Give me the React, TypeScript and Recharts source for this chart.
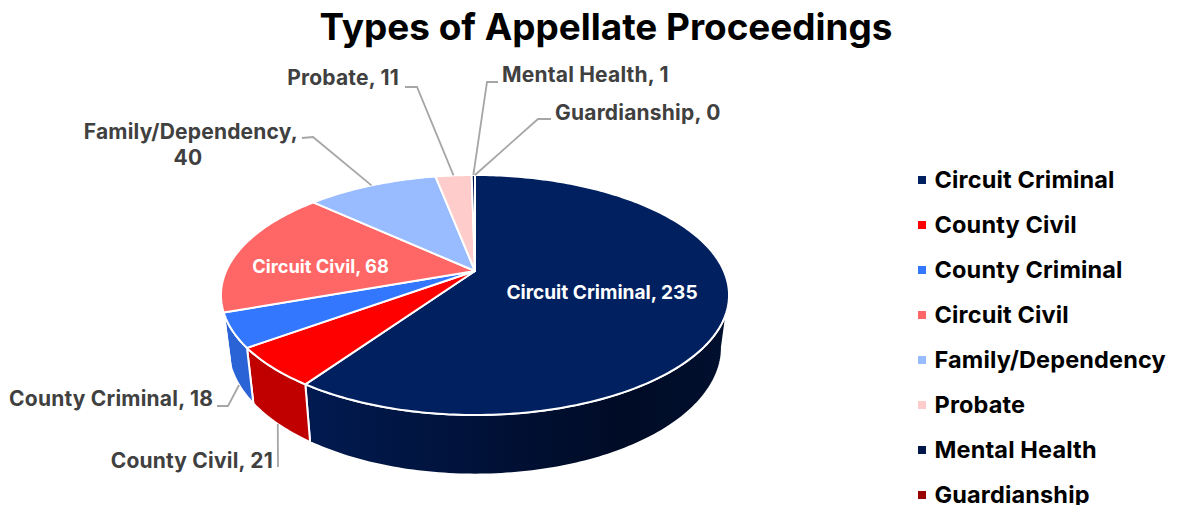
import React from "react";
import { PieChart, Pie, Legend } from "recharts";

const categories = ["Circuit Criminal", "County Civil", "County Criminal", "Circuit Civil", "Family/Dependency", "Probate", "Mental Health", "Guardianship"];
const values = [235, 21, 18, 68, 40, 11, 1, 0];
const topColors = ["#002060", "#ff0000", "#3377ff", "#ff6666", "#99bbff", "#ffcccc", "#00174a", "#990000"];
const wallColors = ["url(#navyWall)", "#c00000", "#2a63d6", "#d95757", "#99bbff", "#ffcccc", "#00174a", "#990000"];
const tableData = categories.map((name, i) => ({ name, value: values[i], fill: topColors[i], wall: wallColors[i] }));

const FONT = "Inter, Lato, sans-serif";
const W = 1182, H = 505;
const CX = 475, CY = 271;

// Perspective of the tilted disc
const P = 0.2, A = 115.2, B = 248.9;
const WALL_X = 0.972, WALL_Y = 1.06, WALL_DZ = 51;
const rim = (deg: number, lower = false) => {
  const r = (deg * Math.PI) / 180;
  const u = Math.cos(r), v = -Math.sin(r);
  const d = 1 - P * v;
  const x = (B * u) / d, y = (A * v) / d;
  return lower ? [CX + x * WALL_X, CY + WALL_DZ + y * WALL_Y] : [CX + x, CY + y];
};
const arcPts = (from: number, to: number, lower = false) => {
  const n = Math.max(2, Math.ceil(Math.abs(from - to)));
  const out: string[] = [];
  for (let i = 0; i <= n; i++) {
    const p = rim(from + ((to - from) * i) / n, lower);
    out.push(`${p[0].toFixed(2)} ${p[1].toFixed(2)}`);
  }
  return out;
};

const SliceShape = (props: any) => {
  const { startAngle: s, endAngle: e, payload } = props;
  if (Math.abs(s - e) < 0.001) return <g />;
  const wall = payload?.wall ?? props.wall;
  const fill = payload?.fill ?? props.fill;
  const hi = Math.min(s, -11.5), lo = Math.max(e, -168.5);
  return (
    <g>
      {hi > lo && (
        <path
          d={`M${arcPts(hi, lo).join(" L")} L${arcPts(lo, hi, true).join(" L")} Z`}
          fill={wall}
          stroke="#ffffff"
          strokeWidth={2}
          strokeLinejoin="round"
        />
      )}
      <path d={`M${CX} ${CY} L${arcPts(s, e).join(" L")} Z`} fill={fill} stroke="#ffffff" strokeWidth={2} strokeLinejoin="round" />
    </g>
  );
};

type LabelSpot = { x: number; y: number; lines: string[]; anchor: string; color: string; size: number; weight: number; spacing: number; leader?: number[][]; lowerRim?: boolean };
const outer = { color: "#404040", size: 21, weight: 700, spacing: 0.2 };
const labelSpots: Record<string, LabelSpot> = {
  "Circuit Criminal": { x: 602, y: 299, lines: ["Circuit Criminal, 235"], anchor: "middle", color: "#ffffff", size: 19.1, weight: 700, spacing: 0 },
  "County Civil": { ...outer, x: 273, y: 468, lines: ["County Civil, 21"], anchor: "end", leader: [[278, 467]], lowerRim: true },
  "County Criminal": { ...outer, x: 213, y: 406, lines: ["County Criminal, 18"], anchor: "end", leader: [[217, 406], [228, 406]], lowerRim: true },
  "Circuit Civil": { x: 320.5, y: 273, lines: ["Circuit Civil, 68"], anchor: "middle", color: "#ffffff", size: 18.3, weight: 700, spacing: 0 },
  "Family/Dependency": { ...outer, x: 298, y: 139, lines: ["Family/Dependency,", "40"], anchor: "end", leader: [[302, 138], [313, 137]] },
  Probate: { ...outer, x: 399, y: 85, lines: ["Probate, 11"], anchor: "end", leader: [[405, 87], [417, 87]] },
  "Mental Health": { ...outer, x: 502, y: 82, lines: ["Mental Health, 1"], anchor: "start", leader: [[498, 82], [487, 82]] },
  Guardianship: { ...outer, x: 555, y: 120, lines: ["Guardianship, 0"], anchor: "start", leader: [[551, 119], [538, 119]] },
};

const SliceLabel = (props: any) => {
  const spot = labelSpots[props.name];
  if (!spot) return null;
  const end = rim(props.midAngle, !!spot.lowerRim);
  return (
    <g>
      {spot.leader && (
        <polyline
          points={[...spot.leader, end].map((p) => p.join(",")).join(" ")}
          fill="none"
          stroke="#a6a6a6"
          strokeWidth={1.8}
        />
      )}
      {spot.lines.map((line, i) => (
        <text
          key={line}
          x={i === 0 ? spot.x : 188}
          y={spot.y + i * 26}
          textAnchor={i === 0 ? (spot.anchor as any) : "middle"}
          fontFamily={FONT}
          fontWeight={spot.weight}
          fontSize={spot.size}
          letterSpacing={spot.spacing}
          fill={spot.color}
        >
          {line}
        </text>
      ))}
    </g>
  );
};

const LegendBody = (props: any) => (
  <div>
    {(props.payload ?? []).map((item: any) => (
      <div key={item.value} style={{ height: 45, display: "flex", alignItems: "center" }}>
        <span style={{ width: 8, height: 8, marginRight: 8.5, background: topColors[categories.indexOf(item.value)], flex: "none" }} />
        <span style={{ fontFamily: FONT, fontWeight: 700, fontSize: 23.5, letterSpacing: 0.15, color: "#000000", whiteSpace: "nowrap" }}>{item.value}</span>
      </div>
    ))}
  </div>
);

export default function App() {
  return (
    <div style={{ position: "absolute", left: 0, top: 0, width: W, height: H, overflow: "hidden", background: "#ffffff" }}>
      <PieChart width={W} height={H} margin={{ top: 0, right: 0, bottom: 0, left: 0 }}>
        <defs>
          <linearGradient id="navyWall" gradientUnits="userSpaceOnUse" x1="305" y1="0" x2="730" y2="0">
            <stop offset="0" stopColor="#011a50" />
            <stop offset="0.75" stopColor="#000b25" />
            <stop offset="1" stopColor="#01102f" />
          </linearGradient>
        </defs>
        <text x={606} y={40} textAnchor="middle" fontFamily={FONT} fontWeight={700} fontSize={36.9} fill="#000000">
          Types of Appellate Proceedings
        </text>
        <Pie
          data={tableData}
          dataKey="value"
          nameKey="name"
          cx={CX}
          cy={CY}
          outerRadius={100}
          startAngle={90}
          endAngle={-270}
          shape={SliceShape}
          label={SliceLabel}
          labelLine={false}
          isAnimationActive={false}
        />
        <Legend content={LegendBody} itemSorter={null} layout="vertical" align="right" verticalAlign="top" wrapperStyle={{ position: "absolute", left: 918, top: 157, width: 264 }} />
      </PieChart>
    </div>
  );
}
